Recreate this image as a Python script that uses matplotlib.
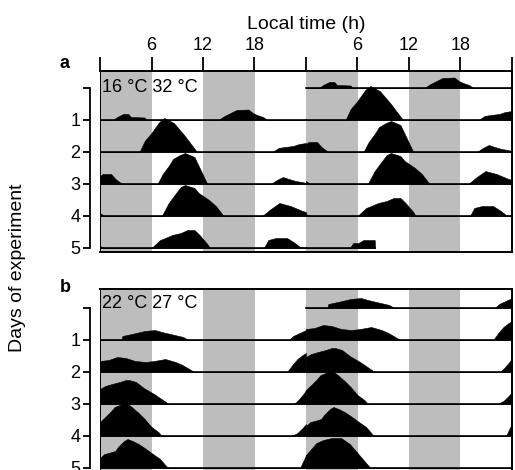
import numpy as np
import matplotlib
matplotlib.use("Agg")
import matplotlib.pyplot as plt

plt.rcParams['font.family'] = ['Liberation Sans', 'DejaVu Sans']

# activity profiles per day: knot hours and bar heights (px, row spacing = 32)
a_hours = [
    [0, 1.5, 2.0, 2.7, 3.3, 3.6, 5.2, 5.4, 13.8, 14.5, 15.2, 15.9, 17.3, 17.8, 18.3, 19.0, 19.5, 24],
    [0, 4.6, 5.2, 5.9, 6.9, 7.5, 8.6, 9.8, 10.6, 11.3, 20.1, 20.8, 21.5, 22.5, 23.2, 24],
    [0, 0.3, 1.3, 1.8, 2.6, 6.7, 7.3, 8.0, 8.5, 9.3, 9.9, 11.0, 11.5, 12.0, 12.5, 19.9, 20.6, 21.3, 22.0, 22.8, 23.5, 24],
    [0, 0.5, 7.2, 8.0, 8.6, 9.4, 9.9, 11.0, 11.5, 12.7, 13.5, 14.4, 18.9, 19.9, 20.9, 22.2, 23.6, 24],
    [0, 0.5, 6.0, 7.0, 7.6, 8.4, 9.4, 10.2, 11.0, 11.6, 12.5, 12.8, 19.1, 19.6, 20.5, 21.8, 22.7, 23.3, 24],
    [0, 5.1, 5.5, 6.1, 6.7, 8.0, 8.05],
]
a_activity = [
    [0, 0, 3, 6, 6, 3, 2.5, 0, 0, 4, 7, 10, 10.5, 7, 5, 3, 0, 0],
    [0, 0, 11, 18, 30, 34, 29, 17, 8, 0, 0, 4, 5, 6, 8, 9],
    [8, 10, 10, 5, 0, 0, 10, 18, 25, 29, 31, 27, 18, 9, 0, 0, 4, 7, 5, 3, 2, 1],
    [3, 0, 0, 13, 20, 29, 31, 28, 23, 16, 10, 0, 0, 7, 13, 10, 5, 4],
    [2, 0, 0, 8, 10, 13, 15, 18, 18, 13, 4, 0, 0, 8, 10, 10, 5, 1, 0],
    [0, 0, 5, 5, 8, 8, 0],
]

b_hours = [
    [0, 2.5, 2.6, 3.7, 5.2, 6.4, 7.2, 8.7, 9.7, 10.3, 22.0, 22.5, 23.5, 24],
    [0, 1.0, 2.0, 3.0, 4.1, 5.3, 6.3, 7.6, 8.8, 9.6, 10.4, 11.0, 21.8, 22.4, 23.0, 23.6, 24],
    [0, 0.6, 1.4, 2.3, 3.0, 3.4, 4.2, 5.1, 6.3, 7.5, 8.0, 22.6, 23.2, 23.7, 24],
    [0, 0.6, 1.2, 1.7, 2.3, 2.9, 3.7, 4.5, 5.2, 6.0, 6.8, 7.2, 22.3, 23.0, 23.6, 24],
    [0, 0.5, 1.0, 1.75, 2.2, 2.8, 3.2, 3.8, 4.5, 5.2, 6.0, 7.0, 7.8, 8.1, 23.3, 23.8, 24],
    [0, 0.7, 1.2, 2.0, 3.0, 4.1, 5.1, 5.9, 6.9, 7.5, 24],
]
b_activity = [
    [0, 0, 4, 6, 9, 10, 8, 5, 3, 0, 0, 4, 8, 10],
    [11, 12, 15, 14, 11, 10, 11, 13, 10, 7, 3, 0, 0, 7, 13, 17, 19],
    [15, 18, 20, 22, 24, 24, 22, 16, 10, 3, 0, 0, 5, 10, 14],
    [14, 19, 24, 29, 31, 34, 29, 23, 17, 9, 4, 0, 0, 3, 8, 12],
    [10, 14, 15, 17, 22, 27, 29, 27, 24, 20, 15, 9, 1, 0, 0, 9, 13],
    [13, 20, 25, 28, 30, 30, 24, 16, 6, 0, 0],
]

cold_phases = [(0, 6), (12, 18), (24, 30), (36, 42)]
time_ticks = [0, 6, 12, 18, 24, 30, 36, 42, 48]
time_labels = ['', '6', '12', '18', '', '6', '12', '18', '']
day_labels = ['', '1', '2', '3', '4', '5']

ROW_PX = 32.0
N_ROWS = 6
GRAY = '#bdbdbd'


def draw_panel(ax, hours, activity, temps, temp_y):
    for lo, hi in cold_phases:
        ax.axvspan(lo, hi, color=GRAY, lw=0, zorder=0)
    for d in range(len(hours)):
        h = np.array(hours[d], dtype=float)
        v = np.array(activity[d], dtype=float) / ROW_PX
        # double plot: day d goes right half of row d, left half of row d+1
        for row, shift in ((d, 24), (d + 1, 0)):
            if row >= N_ROWS:
                continue
            base = N_ROWS - 1 - row
            ax.fill_between(h + shift, base, base + v, color='black', lw=0.4, zorder=2)
            ax.plot([h[0] + shift, h[-1] + shift], [base, base], color='black', lw=1.2, zorder=3)

    ax.set_xlim(0, 48)
    ax.axvline(0, color='black', lw=1.4, zorder=4)
    for s in ['top', 'right', 'bottom']:
        ax.spines[s].set_linewidth(1.4)
    ax.spines['left'].set_position(('outward', 7))
    ax.spines['left'].set_bounds(0, N_ROWS - 1)
    ax.spines['left'].set_linewidth(1.3)
    ax.set_yticks(range(N_ROWS - 1, -1, -1))
    ax.set_yticklabels(day_labels)
    ax.tick_params(axis='y', direction='out', length=5, width=1.3, pad=2, labelsize=13)
    ax.text(0.2, temp_y, temps, fontsize=13, va='center', ha='left', zorder=5)


fig = plt.figure(figsize=(5.15, 4.70), dpi=100)
ax_a = fig.add_axes([100 / 515, (470 - 252) / 470, 412 / 515, 181 / 470])
ax_b = fig.add_axes([100 / 515, (470 - 472) / 470, 412 / 515, 183 / 470])

draw_panel(ax_a, a_hours, a_activity, '16 °C 32 °C', 5.0)
ax_a.set_ylim(-0.125, 5 + 17 / 32)
ax_a.xaxis.tick_top()
ax_a.set_xticks(time_ticks)
ax_a.set_xticklabels(time_labels)
ax_a.tick_params(axis='x', direction='out', length=10, width=1.3, pad=2, labelsize=13)
ax_a.xaxis.set_label_position('top')
ax_a.set_xlabel('Local time (h)', fontsize=14, labelpad=6)

draw_panel(ax_b, b_hours, b_activity, '22 °C 27 °C', 5.125)
ax_b.set_ylim(-0.125, 5 + 19 / 32)
ax_b.set_xticks([])

fig.text(65 / 515, 1 - 63 / 470, 'a', fontsize=13, fontweight='bold', ha='center', va='center')
fig.text(65 / 515, 1 - 287 / 470, 'b', fontsize=13, fontweight='bold', ha='center', va='center')
fig.text(18 / 515, 1 - 268 / 470, 'Days of experiment', fontsize=14, rotation=90,
         ha='center', va='center')

fig.savefig('out.png', dpi=100)
